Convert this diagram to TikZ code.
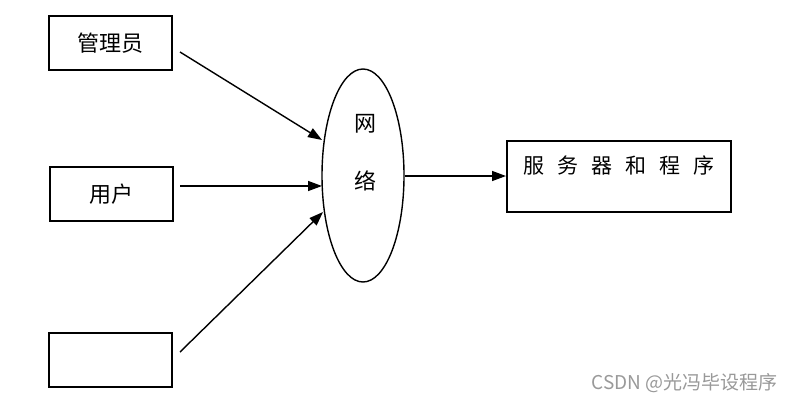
\documentclass[tikz,border=0pt]{standalone}
\usepackage{fontspec}
\setmainfont{Noto Sans CJK SC}
\newfontfamily\wmfont{Noto Sans CJK SC}
\usetikzlibrary{arrows.meta,shapes.geometric}
\begin{document}
\begin{tikzpicture}[x=1pt,y=-1pt,
  lbl/.style={font=\fontsize{22}{22}\selectfont},
  boxst/.style={draw,line width=2pt,minimum width=123pt,minimum height=54pt,inner sep=0pt,lbl},
  arr/.style={line width=1.4pt,-{Triangle[length=14pt,width=10pt]}}]
\useasboundingbox (0,0) rectangle (791,402);
\node[boxst] (adm) at (110.5,43) {管理员};
\node[boxst] (usr) at (111,194) {用户};
\node[boxst] (emp) at (110.5,360) {};
\node[draw,line width=1.4pt,ellipse,minimum width=82pt,minimum height=213pt,inner sep=0pt] (net) at (363,175.5) {};
\node[lbl] (w1) at (365,124) {网};
\node[lbl] (w2) at (365,181) {络};
\node[draw,line width=2pt,minimum width=224pt,minimum height=71pt,inner sep=0pt] (srv) at (619,176.5) {};
\node[font=\fontsize{21}{21}\selectfont] (srvt) at (619,165) {服\hspace{13pt}务\hspace{13pt}器\hspace{13pt}和\hspace{13pt}程\hspace{13pt}序};
\coordinate (s1) at (180,52);
\coordinate (s2) at (180,186);
\coordinate (s3) at (180,352);
\coordinate (t1) at (322,140);
\coordinate (t2) at (322,186);
\coordinate (t3) at (323,212);
\draw[arr] (s1) -- (t1);
\draw[arr] (s2) -- (t2);
\draw[arr] (s3) -- (t3);
\draw[arr] (net.east |- 0,176) -- (srv.west |- 0,176);
\node[text=black!40,font=\wmfont\fontsize{19}{19}\selectfont,anchor=east] (wm) at (781,383) {CSDN @光冯毕设程序};
\end{tikzpicture}
\end{document}
